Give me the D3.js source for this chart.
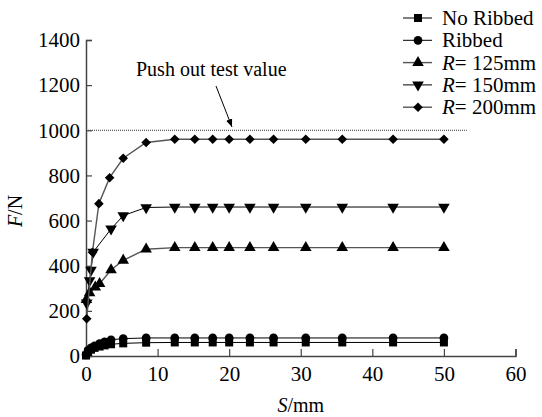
<!DOCTYPE html>
<html>
<head>
<meta charset="utf-8">
<script src="https://cdn.jsdelivr.net/npm/d3@7/dist/d3.min.js"></script>
<style>
  html, body { margin: 0; padding: 0; background: #fff; }
</style>
</head>
<body>
<svg id="chart" width="542" height="417"></svg>
<script>
// Slip S (mm) and load F (N) for each specimen type
const noRibS = [0, 0.3, 0.7, 1.2, 1.9, 2.6, 3.5, 5.2, 8.4, 12.4, 15.2, 17.7, 20.0, 22.9, 26.2, 30.7, 35.8, 42.9, 50.0];
const noRibF = [2, 18, 28, 36, 42, 47, 52, 56, 59, 60, 60, 60, 60, 60, 60, 60, 60, 60, 60];
const ribS = [0, 0.3, 0.7, 1.2, 1.9, 2.6, 3.5, 5.2, 8.4, 12.4, 15.2, 17.7, 20.0, 22.9, 26.2, 30.7, 35.8, 42.9, 50.0];
const ribF = [5, 25, 36, 45, 55, 63, 72, 77, 80, 80, 80, 80, 80, 80, 80, 80, 80, 80, 80];
const r125S = [0.05, 0.5, 1.3, 1.9, 3.5, 5.2, 8.4, 12.4, 15.2, 17.7, 20.0, 22.9, 26.2, 30.7, 35.8, 42.9, 50.0];
const r125F = [250, 280, 305, 320, 381, 424, 473, 480, 480, 480, 480, 480, 480, 480, 480, 480, 480];
const r150S = [0.1, 0.5, 0.7, 1.0, 3.5, 5.2, 8.4, 12.4, 15.2, 17.7, 20.0, 22.9, 26.2, 30.7, 35.8, 42.9, 50.0];
const r150F = [235, 334, 381, 460, 563, 622, 658, 660, 660, 660, 660, 660, 660, 660, 660, 660, 660];
const r200S = [0.1, 0.9, 1.8, 3.3, 5.2, 8.4, 12.4, 15.2, 17.7, 20.0, 22.9, 26.2, 30.7, 35.8, 42.9, 50.0];
const r200F = [165, 460, 675, 790, 876, 946, 960, 960, 960, 960, 960, 960, 960, 960, 960, 960];

const seriesNames = ["No Ribbed", "Ribbed", "R= 125mm", "R= 150mm", "R= 200mm"];
const xTicks = [0, 10, 20, 30, 40, 50, 60];
const yTicks = [0, 200, 400, 600, 800, 1000, 1200, 1400];
const pushOutValue = 1000;
const pushOutLabel = "Push out test value";

const series = [
  { name: seriesNames[0], s: noRibS, f: noRibF, shape: "square", stroke: "#000", width: 1 },
  { name: seriesNames[1], s: ribS, f: ribF, shape: "circle", stroke: "#000", width: 1 },
  { name: seriesNames[2], s: r125S, f: r125F, shape: "up", stroke: "#555", width: 1.4 },
  { name: seriesNames[3], s: r150S, f: r150F, shape: "down", stroke: "#000", width: 1 },
  { name: seriesNames[4], s: r200S, f: r200F, shape: "diamond", stroke: "#555", width: 1.4 }
];

const FONT = "Liberation Serif";
const svg = d3.select("#chart");
const x = d3.scaleLinear().domain([0, 60]).range([86, 515.5]);
const y = d3.scaleLinear().domain([0, 1400]).range([356, 40]);

const axisColor = "#444";

// marker path generator
function marker(shape) {
  switch (shape) {
    case "square": return d3.symbol(d3.symbolSquare, 64)();
    case "circle": return d3.symbol(d3.symbolCircle, 60)();
    case "up": return d3.symbol(d3.symbolTriangle, 58)();
    case "down": return d3.symbol(d3.symbolTriangle, 58)();
    case "diamond": return d3.symbol(d3.symbolSquare, 46)();
  }
}
function markerRotate(shape) {
  return shape === "down" ? " rotate(180)" : shape === "diamond" ? " rotate(45)" : "";
}

// push-out reference line
svg.append("line")
  .attr("x1", x(0)).attr("x2", x(53.2))
  .attr("y1", y(pushOutValue)).attr("y2", y(pushOutValue))
  .attr("stroke", "#000").attr("stroke-width", 0.8)
  .attr("stroke-dasharray", "1,1");

// axes
const xAxis = d3.axisBottom(x).tickValues(xTicks).tickSize(-7).tickPadding(10).tickFormat(d3.format("d"));
const gx = svg.append("g").attr("transform", `translate(0,${y(0)})`).call(xAxis);
const yAxis = d3.axisLeft(y).tickValues(yTicks).tickSize(-6).tickPadding(6).tickFormat(d3.format("d"));
const gy = svg.append("g").attr("transform", `translate(${x(0)},0)`).call(yAxis);
[gx, gy].forEach(g => {
  g.attr("font-family", null).attr("font-size", null);
  g.select(".domain").attr("stroke", axisColor).attr("stroke-width", 1.5);
  g.selectAll(".tick line").attr("stroke", axisColor).attr("stroke-width", 1.2);
  g.selectAll(".tick text").attr("fill", "#000")
    .style("font-family", FONT).style("font-size", "21px");
});

// series lines and markers
const line = d3.line().x(d => x(d[0])).y(d => y(d[1]));
series.forEach(sr => {
  const pts = sr.s.map((v, i) => [v, sr.f[i]]);
  svg.append("path").datum(pts)
    .attr("fill", "none").attr("stroke", sr.stroke).attr("stroke-width", sr.width)
    .attr("d", line);
  svg.append("g").selectAll("path").data(pts).join("path")
    .attr("d", marker(sr.shape))
    .attr("transform", d => `translate(${x(d[0])},${y(d[1])})${markerRotate(sr.shape)}`)
    .attr("fill", "#000");
});

// annotation
svg.append("text").attr("x", 136).attr("y", 76)
  .style("font-family", FONT).style("font-size", "20px").text(pushOutLabel);
svg.append("defs").append("marker")
  .attr("id", "arrow").attr("viewBox", "0 0 10 10").attr("refX", 10).attr("refY", 5)
  .attr("markerWidth", 8).attr("markerHeight", 8).attr("orient", "auto")
  .append("path").attr("d", "M0,1 L10,5 L0,9 z").attr("fill", "#000");
svg.append("line")
  .attr("x1", 216).attr("y1", 86).attr("x2", 232).attr("y2", 127)
  .attr("stroke", "#000").attr("stroke-width", 1)
  .attr("marker-end", "url(#arrow)");

// axis titles
const yTitle = svg.append("text")
  .attr("transform", "translate(22,211) rotate(-90)")
  .attr("text-anchor", "middle")
  .style("font-family", FONT).style("font-size", "20px");
yTitle.append("tspan").style("font-style", "italic").text("F");
yTitle.append("tspan").text("/N");
const xTitle = svg.append("text")
  .attr("x", x(30)).attr("y", 412)
  .attr("text-anchor", "middle")
  .style("font-family", FONT).style("font-size", "20px");
xTitle.append("tspan").style("font-style", "italic").text("S");
xTitle.append("tspan").text("/mm");

// legend
const legend = svg.append("g");
series.forEach((sr, i) => {
  const ly = 18 + i * 22.3;
  const g = legend.append("g").attr("transform", `translate(0,${ly})`);
  g.append("line").attr("x1", 403).attr("x2", 432).attr("y1", 0).attr("y2", 0)
    .attr("stroke", sr.stroke).attr("stroke-width", sr.width);
  g.append("path").attr("d", marker(sr.shape))
    .attr("transform", `translate(418,0)${markerRotate(sr.shape)}`).attr("fill", "#000");
  const t = g.append("text").attr("x", 442).attr("y", 7)
    .style("font-family", FONT).style("font-size", "21px");
  if (sr.name.startsWith("R=")) {
    t.append("tspan").style("font-style", "italic").text("R");
    t.append("tspan").text(sr.name.slice(1));
  } else {
    t.text(sr.name);
  }
});
</script>
</body>
</html>
